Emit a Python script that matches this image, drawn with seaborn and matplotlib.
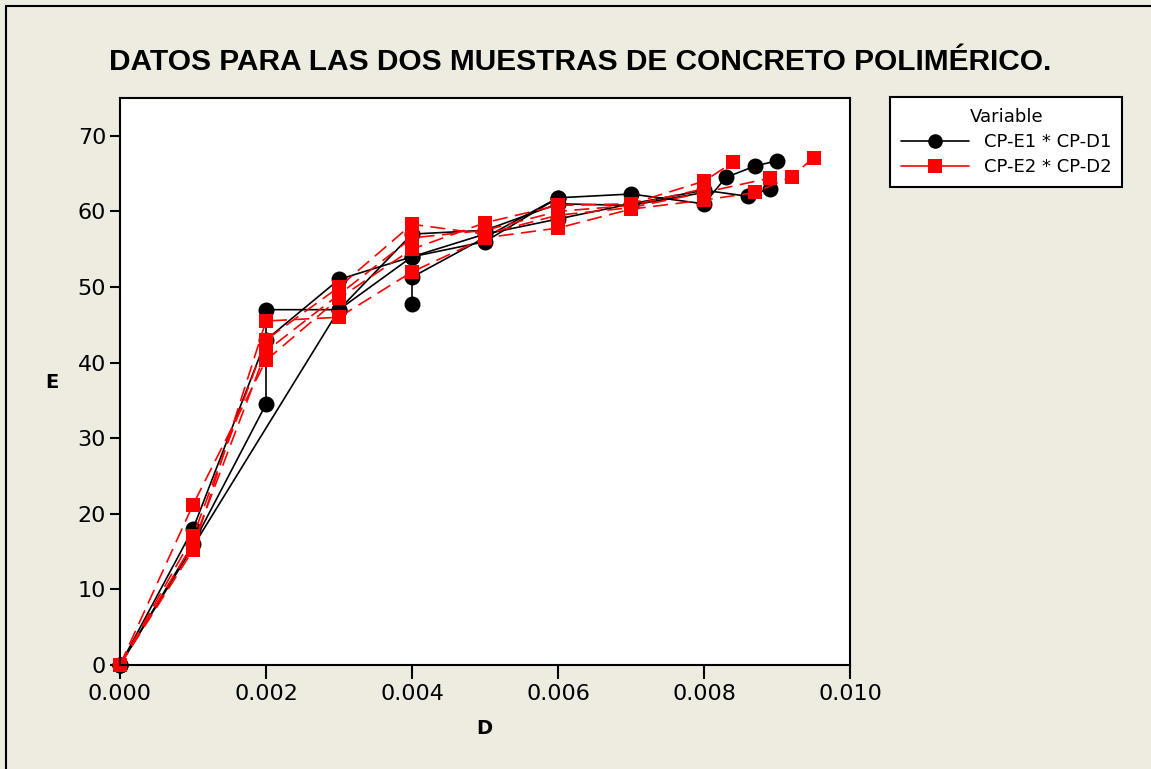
import pandas as pd
import matplotlib.pyplot as plt
import seaborn as sns
from matplotlib.lines import Line2D

sns.set_theme(style="white")
plt.rcParams['font.family'] = ['DejaVu Sans']
plt.rcParams['text.color'] = 'black'

# -----------------------------------------------------------------
# Data: each specimen is one connected curve
# -----------------------------------------------------------------
series_names = ['CP-E1 * CP-D1', 'CP-E2 * CP-D2']

# CP-E1 * CP-D1
d1_a = [0, 0.001, 0.002, 0.002, 0.003, 0.004, 0.005, 0.006, 0.007, 0.008, 0.0086, 0.0089]
e1_a = [0, 16, 34.5, 47, 47, 54, 57, 59, 61, 62.8, 62, 63]
d1_b = [0, 0.001, 0.002, 0.003, 0.004, 0.005, 0.006, 0.007, 0.008, 0.0083, 0.0087, 0.009]
e1_b = [0, 18, 43, 51, 54, 56, 61.8, 62.3, 61, 64.5, 66, 66.7]
d1_c = [0, 0.003, 0.004, 0.005, 0.006, 0.007, 0.008]
e1_c = [0, 47, 57, 57.5, 61, 60.8, 62.5]
d1_d = [0.004, 0.004, 0.006]
e1_d = [47.8, 51.3, 61.8]

# CP-E2 * CP-D2
d2_a = [0, 0.001, 0.002, 0.003, 0.004, 0.005, 0.006, 0.007, 0.008, 0.0087, 0.0092, 0.0095]
e2_a = [0, 15.2, 45.5, 46, 52, 56.5, 57.8, 60.3, 61.5, 62.5, 64.6, 67.1]
d2_b = [0, 0.001, 0.002, 0.003, 0.004, 0.005, 0.006, 0.007, 0.008, 0.0084]
e2_b = [0, 21.2, 40.3, 48.5, 55, 58.5, 60.8, 61, 64, 66.5]
d2_c = [0, 0.001, 0.002, 0.003, 0.004, 0.005, 0.006, 0.007, 0.008, 0.0089]
e2_c = [0, 17, 43, 50, 58.3, 57, 59.5, 60.5, 62.5, 64.4]
d2_d = [0, 0.001, 0.002, 0.003, 0.004, 0.005, 0.006, 0.007, 0.008]
e2_d = [0, 16, 41.5, 49, 56.5, 57.5, 60, 60.8, 63]

specimens = [
    (series_names[0], 'E1a', d1_a, e1_a),
    (series_names[0], 'E1b', d1_b, e1_b),
    (series_names[0], 'E1c', d1_c, e1_c),
    (series_names[0], 'E1d', d1_d, e1_d),
    (series_names[1], 'E2a', d2_a, e2_a),
    (series_names[1], 'E2b', d2_b, e2_b),
    (series_names[1], 'E2c', d2_c, e2_c),
    (series_names[1], 'E2d', d2_d, e2_d),
]

frames = []
for var, unit, d, e in specimens:
    frames.append(pd.DataFrame({'D': d, 'E': e, 'Variable': var, 'Specimen': unit}))
df = pd.concat(frames, ignore_index=True)

colors = {series_names[0]: 'black', series_names[1]: '#FF0000'}
markers = {series_names[0]: 'o', series_names[1]: 's'}
dashes = {series_names[0]: '', series_names[1]: (9, 4.5)}
msize = {series_names[0]: 11.5, series_names[1]: 10.5}

bg = '#EEEBE1'
fig = plt.figure(figsize=(11.51, 7.69), dpi=100, facecolor=bg)
ax = fig.add_axes([120 / 1151, 1 - 665 / 769, 730 / 1151, 567 / 769])
ax.set_facecolor('white')

for var in series_names:
    sub = df[df['Variable'] == var]
    sns.lineplot(data=sub, x='D', y='E', units='Specimen', estimator=None, sort=False,
                 color=colors[var], marker=markers[var], markersize=msize[var],
                 markeredgewidth=0, linewidth=1.2, dashes=dashes[var],
                 legend=False, ax=ax, clip_on=False)

ax.set_xlim(0, 0.010)
ax.set_ylim(0, 75)
ax.set_xticks([0, 0.002, 0.004, 0.006, 0.008, 0.010])
ax.set_xticklabels(['0.000', '0.002', '0.004', '0.006', '0.008', '0.010'])
ax.set_yticks(range(0, 71, 10))
ax.tick_params(axis='x', direction='out', length=10, width=1.5, labelsize=16, pad=4,
               bottom=True, colors='black')
ax.tick_params(axis='y', direction='out', length=7, width=1.5, labelsize=16, pad=3,
               left=True, colors='black')
for s in ax.spines.values():
    s.set_color('black')
    s.set_linewidth(1.5)
ax.grid(False)

ax.set_xlabel('')
ax.set_ylabel('')
fig.text(484 / 1151, 1 - 728 / 769, 'D', fontsize=14, fontweight='bold',
         ha='center', va='center')
fig.text(52 / 1151, 1 - 382 / 769, 'E', fontsize=14, fontweight='bold',
         ha='center', va='center')

fig.text(580 / 1151, 1 - 62 / 769, 'DATOS PARA LAS DOS MUESTRAS DE CONCRETO POLIMÉRICO.',
         fontsize=21.5, fontweight='bold', ha='center', va='center',
         family=['Liberation Sans', 'DejaVu Sans'])

# Legend
handles = [Line2D([], [], color=colors[v], marker=markers[v], markersize=msize[v] - 1,
                  markeredgewidth=0, linewidth=1.2) for v in series_names]
leg = fig.legend(handles, series_names, title='Variable', loc='upper left',
                 bbox_to_anchor=(890 / 1151, 1 - 97 / 769), borderaxespad=0,
                 fontsize=13, title_fontsize=13,
                 frameon=True, fancybox=False, framealpha=1, edgecolor='black',
                 handlelength=3.8, borderpad=0.6, labelspacing=0.4, handletextpad=0.8)
leg.get_frame().set_linewidth(1.5)
leg.get_frame().set_facecolor('white')

# outer frame (left and top edges only visible in the reference)
fig.add_artist(Line2D([6 / 1151, 6 / 1151], [0, 1 - 6 / 769], transform=fig.transFigure,
                      color='black', linewidth=1.5))
fig.add_artist(Line2D([6 / 1151, 1], [1 - 6 / 769, 1 - 6 / 769], transform=fig.transFigure,
                      color='black', linewidth=1.5))

fig.savefig('out.png', dpi=100, facecolor=bg)
